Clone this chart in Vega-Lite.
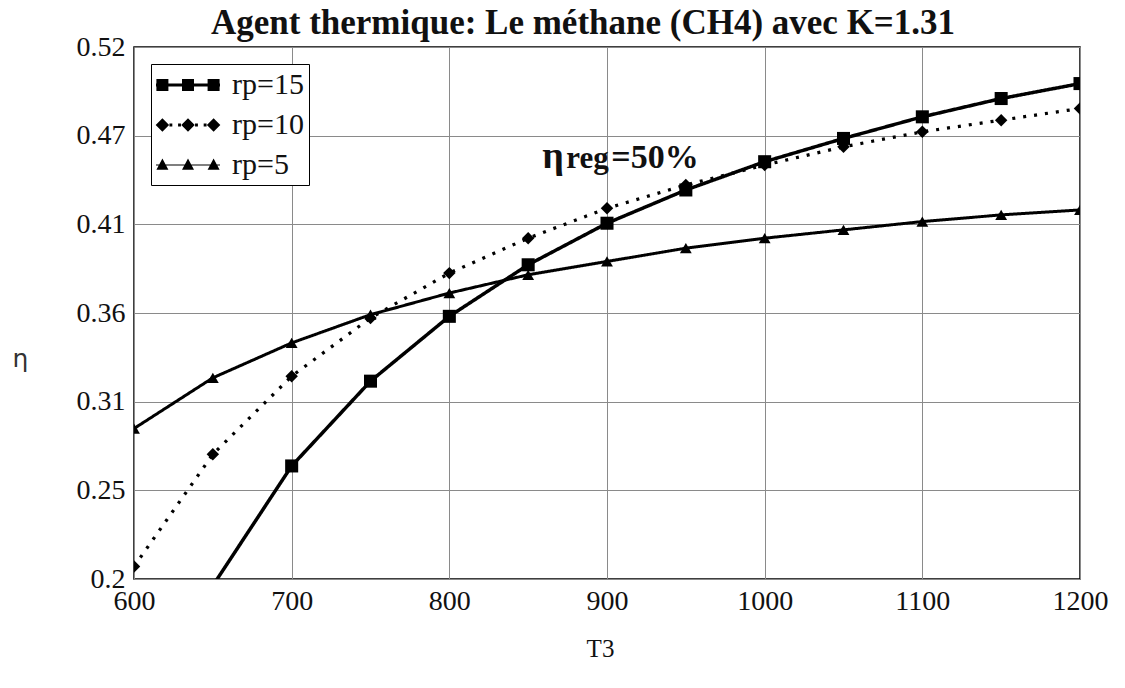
{
  "$schema": "https://vega.github.io/schema/vega-lite/v6.json",
  "autosize": {"type": "none"},
  "width": 946,
  "height": 532,
  "padding": {"left": 134, "top": 47, "right": 45, "bottom": 109},
  "background": "white",
  "title": {
    "text": "Agent thermique: Le méthane (CH4) avec K=1.31",
    "font": "Times New Roman, Liberation Serif, serif",
    "fontSize": 35,
    "fontWeight": "bold",
    "color": "#111",
    "anchor": "middle",
    "offset": 0,
    "dy": 8,
    "dx": -24
  },
  "config": {
    "view": {"stroke": "#000", "strokeWidth": 1.5},
    "axis": {
      "labelFont": "Times New Roman, Liberation Serif, serif",
      "labelFontSize": 28,
      "labelColor": "#111",
      "gridColor": "#8a8a8a",
      "gridWidth": 1,
      "gridOpacity": 1,
      "domain": false,
      "ticks": false,
      "tickSize": 0
    }
  },
  "resolve": {"scale": {"shape": "independent"}, "legend": {"shape": "independent"}},
  "data": {
    "values": [
      {"T3": 600, "eta": 0.092, "rp": "rp=15"},
      {"T3": 650, "eta": 0.196, "rp": "rp=15"},
      {"T3": 700, "eta": 0.268, "rp": "rp=15"},
      {"T3": 750, "eta": 0.319, "rp": "rp=15"},
      {"T3": 800, "eta": 0.358, "rp": "rp=15"},
      {"T3": 850, "eta": 0.389, "rp": "rp=15"},
      {"T3": 900, "eta": 0.414, "rp": "rp=15"},
      {"T3": 950, "eta": 0.434, "rp": "rp=15"},
      {"T3": 1000, "eta": 0.451, "rp": "rp=15"},
      {"T3": 1050, "eta": 0.465, "rp": "rp=15"},
      {"T3": 1100, "eta": 0.478, "rp": "rp=15"},
      {"T3": 1150, "eta": 0.489, "rp": "rp=15"},
      {"T3": 1200, "eta": 0.498, "rp": "rp=15"},
      {"T3": 600, "eta": 0.2075, "rp": "rp=10"},
      {"T3": 650, "eta": 0.275, "rp": "rp=10"},
      {"T3": 700, "eta": 0.322, "rp": "rp=10"},
      {"T3": 750, "eta": 0.357, "rp": "rp=10"},
      {"T3": 800, "eta": 0.384, "rp": "rp=10"},
      {"T3": 850, "eta": 0.405, "rp": "rp=10"},
      {"T3": 900, "eta": 0.423, "rp": "rp=10"},
      {"T3": 950, "eta": 0.437, "rp": "rp=10"},
      {"T3": 1000, "eta": 0.449, "rp": "rp=10"},
      {"T3": 1050, "eta": 0.460, "rp": "rp=10"},
      {"T3": 1100, "eta": 0.469, "rp": "rp=10"},
      {"T3": 1150, "eta": 0.476, "rp": "rp=10"},
      {"T3": 1200, "eta": 0.483, "rp": "rp=10"},
      {"T3": 600, "eta": 0.2905, "rp": "rp=5"},
      {"T3": 650, "eta": 0.321, "rp": "rp=5"},
      {"T3": 700, "eta": 0.342, "rp": "rp=5"},
      {"T3": 750, "eta": 0.359, "rp": "rp=5"},
      {"T3": 800, "eta": 0.372, "rp": "rp=5"},
      {"T3": 850, "eta": 0.383, "rp": "rp=5"},
      {"T3": 900, "eta": 0.391, "rp": "rp=5"},
      {"T3": 950, "eta": 0.399, "rp": "rp=5"},
      {"T3": 1000, "eta": 0.405, "rp": "rp=5"},
      {"T3": 1050, "eta": 0.410, "rp": "rp=5"},
      {"T3": 1100, "eta": 0.415, "rp": "rp=5"},
      {"T3": 1150, "eta": 0.419, "rp": "rp=5"},
      {"T3": 1200, "eta": 0.422, "rp": "rp=5"}
    ]
  },
  "encoding": {
    "x": {
      "field": "T3",
      "type": "quantitative",
      "scale": {"domain": [600, 1200], "nice": false, "zero": false},
      "axis": {
        "title": "T3",
        "titleFont": "Times New Roman, Liberation Serif, serif",
        "titleFontSize": 25,
        "titleFontWeight": "normal",
        "titleColor": "#111",
        "titleX": 466,
        "titleY": 69,
        "titleBaseline": "middle",
        "values": [600, 700, 800, 900, 1000, 1100, 1200],
        "format": "d",
        "labelPadding": 8,
        "labelFlush": false
      }
    },
    "y": {
      "field": "eta",
      "type": "quantitative",
      "scale": {"domain": [0.2, 0.52], "nice": false, "zero": false},
      "axis": {
        "title": "η",
        "titleFont": "DejaVu Sans",
        "titleFontSize": 25,
        "titleFontWeight": "normal",
        "titleColor": "#333",
        "titleAngle": 0,
        "titleX": -114,
        "titleY": 311,
        "titleAlign": "center",
        "titleBaseline": "middle",
        "values": [0.2, 0.253333, 0.306667, 0.36, 0.413333, 0.466667, 0.52],
        "format": ".2~f",
        "labelPadding": 9,
        "labelFlush": false
      }
    }
  },
  "layer": [
    {
      "mark": {"type": "line", "clip": true, "color": "#000", "strokeCap": "butt"},
      "encoding": {
        "detail": {"field": "rp"},
        "strokeDash": {
          "field": "rp",
          "type": "nominal",
          "scale": {"domain": ["rp=15", "rp=10", "rp=5"], "range": [[1, 0], [3, 8], [1, 0]]},
          "legend": null
        },
        "strokeWidth": {
          "field": "rp",
          "type": "nominal",
          "scale": {"domain": ["rp=15", "rp=10", "rp=5"], "range": [3.5, 3, 1.2]},
          "legend": null
        }
      }
    },
    {
      "mark": {"type": "point", "clip": true, "filled": true, "color": "#000", "opacity": 1},
      "encoding": {
        "shape": {
          "field": "rp",
          "type": "nominal",
          "scale": {"domain": ["rp=15", "rp=10", "rp=5"], "range": ["square", "diamond", "triangle-up"]},
          "legend": null
        },
        "size": {
          "field": "rp",
          "type": "nominal",
          "scale": {"domain": ["rp=15", "rp=10", "rp=5"], "range": [170, 140, 150]},
          "legend": null
        }
      }
    },
    {
      "transform": [{"filter": "false"}],
      "mark": {"type": "point", "filled": true, "color": "#000", "opacity": 1, "strokeWidth": 0},
      "encoding": {
        "shape": {
          "field": "rp",
          "type": "nominal",
          "scale": {
            "domain": ["rp=15", "rp=10", "rp=5"],
            "range": [
              "M-1,-0.1H3V0.1H-1Z M-0.975,-0.375H-0.225V0.375H-0.975Z M0.625,-0.375H1.375V0.375H0.625Z M2.225,-0.375H2.975V0.375H2.225Z",
              "M-0.6,-0.42L-0.18,0L-0.6,0.42L-1.02,0Z M1,-0.42L1.42,0L1,0.42L0.58,0Z M2.6,-0.42L3.02,0L2.6,0.42L2.18,0Z M-0.16,-0.09H0.02V0.09H-0.16Z M0.38,-0.09H0.56V0.09H0.38Z M1.44,-0.09H1.62V0.09H1.44Z M1.98,-0.09H2.16V0.09H1.98Z",
              "M-1,-0.035H3V0.035H-1Z M-0.6,-0.4L-0.225,0.3L-0.975,0.3Z M1,-0.4L1.375,0.3L0.625,0.3Z M2.6,-0.4L2.975,0.3L2.225,0.3Z"
            ]
          },
          "legend": {
            "title": null,
            "orient": "top-left",
            "offset": 17,
            "padding": 5,
            "strokeColor": "#000",
            "fillColor": "#fff",
            "symbolSize": 1024,
            "symbolFillColor": "#000",
            "symbolStrokeWidth": 0,
            "symbolOpacity": 1,
            "rowPadding": 9,
            "labelFont": "Times New Roman, Liberation Serif, serif",
            "labelFontSize": 30,
            "labelColor": "#111",
            "labelOffset": 44
          }
        }
      }
    },
    {
      "data": {"values": [{"T3": 859, "eta": 0.447, "part": "η"}]},
      "mark": {"type": "text", "font": "Times New Roman, Liberation Serif, serif", "fontWeight": "bold", "fontSize": 38, "align": "left", "baseline": "alphabetic", "color": "#111"},
      "encoding": {"text": {"field": "part"}}
    },
    {
      "data": {"values": [{"T3": 859, "eta": 0.447, "part": "reg"}]},
      "mark": {"type": "text", "font": "Times New Roman, Liberation Serif, serif", "fontWeight": "bold", "fontSize": 31, "align": "left", "baseline": "alphabetic", "color": "#111", "dx": 24},
      "encoding": {"text": {"field": "part"}}
    },
    {
      "data": {"values": [{"T3": 859, "eta": 0.447, "part": "=50%"}]},
      "mark": {"type": "text", "font": "Times New Roman, Liberation Serif, serif", "fontWeight": "bold", "fontSize": 34, "align": "left", "baseline": "alphabetic", "color": "#111", "dx": 69},
      "encoding": {"text": {"field": "part"}}
    }
  ]
}
